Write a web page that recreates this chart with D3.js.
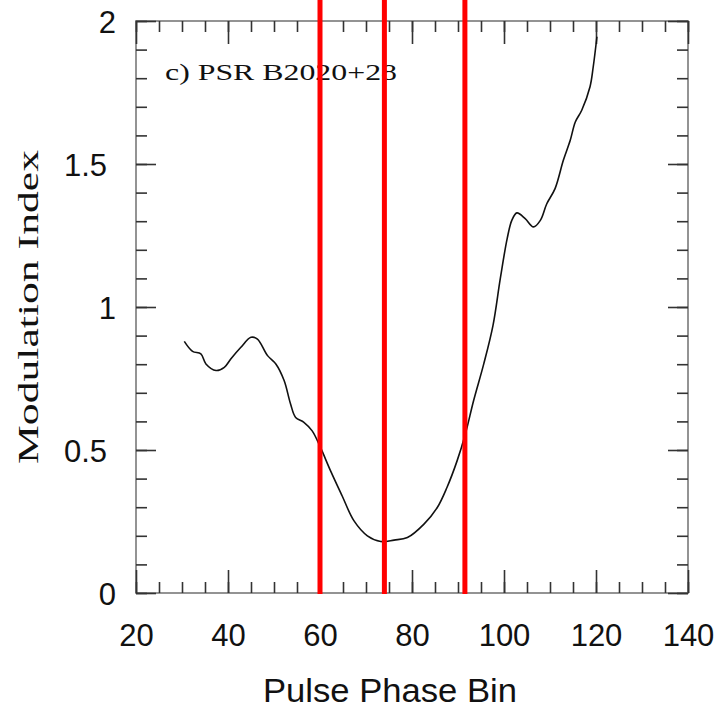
<!DOCTYPE html>
<html>
  <head>
    <script src="https://cdn.jsdelivr.net/npm/d3@7"></script>
    <style>
      body { margin: 0; background: #fff; }
      .tick text { font-family: "Liberation Sans", Arial, sans-serif; font-size: 31px; fill: #111; }
    </style>
  </head>
  <body>
    <script>

      // modulation index per pulse phase bin
      var phaseBin = [30.5, 32.3, 34.1, 35.2, 37.4, 39.2, 40.6, 42.8, 45.0, 46.4,
                      48.6, 50.4, 52.2, 53.6, 54.7, 56.5, 58.3, 60.1, 62.3, 64.8,
                      67.4, 70.3, 73.2, 76.1, 79.0, 82.6, 85.5, 87.6, 89.8, 91.6,
                      93.4, 95.6, 97.6, 99.2, 100.7, 101.7, 102.8, 104.6, 106.4, 107.9,
                      109.3, 111.1, 112.9, 114.4, 115.5, 116.9, 118.7, 119.4, 120.2];
      var modIndex = [0.880, 0.845, 0.836, 0.801, 0.778, 0.789, 0.818, 0.859, 0.894, 0.888,
                      0.830, 0.801, 0.743, 0.661, 0.614, 0.597, 0.567, 0.509, 0.427, 0.340,
                      0.252, 0.200, 0.180, 0.185, 0.194, 0.241, 0.299, 0.369, 0.462, 0.556,
                      0.673, 0.801, 0.935, 1.100, 1.240, 1.303, 1.329, 1.309, 1.280, 1.303,
                      1.361, 1.414, 1.513, 1.583, 1.647, 1.688, 1.770, 1.840, 1.945];

      // red marker lines
      var cutBins = [60, 74, 91.5];

      // tick values
      var xMajor = [20, 40, 60, 80, 100, 120, 140];
      var xMinor = d3.range(20, 141, 5);
      var yMajor = [0, 0.5, 1, 1.5, 2];
      var yMinor = d3.range(0, 2.01, 0.1);

      var label = "c) PSR B2020+28";

      // plot frame
      var frame = {left: 136, right: 688, top: 21, bottom: 593};

      var svg = d3.select("body")
          .append("svg")
          .attr("width", 722)
          .attr("height", 708);

      var x = d3.scaleLinear().domain([20, 140]).range([frame.left, frame.right]);
      var y = d3.scaleLinear().domain([0, 2]).range([frame.bottom, frame.top]);

      // frame
      svg.append("rect")
          .attr("x", frame.left)
          .attr("y", frame.top)
          .attr("width", frame.right - frame.left)
          .attr("height", frame.bottom - frame.top)
          .attr("fill", "none")
          .attr("stroke", "#888")
          .attr("stroke-width", 1.8);

      // inward ticks on all four sides
      function ticks(axis, tx, ty) {
        var g = svg.append("g")
            .attr("transform", "translate(" + tx + "," + ty + ")")
            .call(axis);
        g.select(".domain").remove();
        g.selectAll("line").attr("stroke", "#333").attr("stroke-width", 1.6);
        return g;
      }

      ticks(d3.axisBottom(x).tickValues(xMinor).tickSizeInner(-11).tickSizeOuter(0).tickFormat(""), 0, frame.bottom);
      ticks(d3.axisTop(x).tickValues(xMinor).tickSizeInner(-11).tickSizeOuter(0).tickFormat(""), 0, frame.top);
      ticks(d3.axisLeft(y).tickValues(yMinor).tickSizeInner(-11).tickSizeOuter(0).tickFormat(""), frame.left, 0);
      ticks(d3.axisRight(y).tickValues(yMinor).tickSizeInner(-11).tickSizeOuter(0).tickFormat(""), frame.right, 0);

      ticks(d3.axisTop(x).tickValues(xMajor).tickSizeInner(-23).tickSizeOuter(0).tickFormat(""), 0, frame.top);
      ticks(d3.axisRight(y).tickValues(yMajor).tickSizeInner(-20).tickSizeOuter(0).tickFormat(""), frame.right, 0);

      // major ticks with labels
      ticks(d3.axisBottom(x).tickValues(xMajor).tickSizeInner(-23).tickSizeOuter(0).tickPadding(31), 0, frame.bottom);

      var yl = ticks(d3.axisLeft(y).tickValues(yMajor).tickSizeInner(-20).tickSizeOuter(0).tickPadding(20)
          .tickFormat(d3.format("")), frame.left, 0);
      // decimal labels sit a little further left, as in the original
      yl.selectAll("text")
          .attr("x", function(d) { return d % 1 ? -29 : -20; })
          .attr("dy", "0.36em");

      // curve
      var pts = phaseBin.map(function(d, i) { return [d, modIndex[i]]; });
      svg.append("path")
          .datum(pts)
          .attr("fill", "none")
          .attr("stroke", "#111")
          .attr("stroke-width", 1.6)
          .attr("d", d3.line()
              .x(function(d) { return x(d[0]); })
              .y(function(d) { return y(d[1]); })
              .curve(d3.curveCatmullRom));

      // label in the panel
      svg.append("text")
          .attr("x", 165)
          .attr("y", 80)
          .attr("font-family", "Liberation Serif, serif")
          .attr("font-size", 24)
          .attr("textLength", 232)
          .attr("lengthAdjust", "spacingAndGlyphs")
          .attr("fill", "#111")
          .text(label);

      // axis titles
      svg.append("text")
          .attr("x", 263)
          .attr("y", 702)
          .attr("font-family", "Liberation Sans, Arial, sans-serif")
          .attr("font-size", 33)
          .attr("textLength", 254)
          .attr("lengthAdjust", "spacingAndGlyphs")
          .attr("fill", "#111")
          .text("Pulse Phase Bin");

      svg.append("text")
          .attr("transform", "translate(38,307) rotate(-90)")
          .attr("text-anchor", "middle")
          .attr("font-family", "Liberation Serif, serif")
          .attr("font-size", 30)
          .attr("textLength", 314)
          .attr("lengthAdjust", "spacingAndGlyphs")
          .attr("fill", "#111")
          .text("Modulation Index");

      // red marker lines, drawn on top
      svg.selectAll(".cut")
          .data(cutBins)
          .enter()
          .append("line")
          .attr("class", "cut")
          .attr("x1", function(d) { return x(d); })
          .attr("x2", function(d) { return x(d); })
          .attr("y1", 0)
          .attr("y2", frame.bottom + 1)
          .attr("stroke", "#f00")
          .attr("stroke-width", 5);

    </script>
  </body>
</html>
